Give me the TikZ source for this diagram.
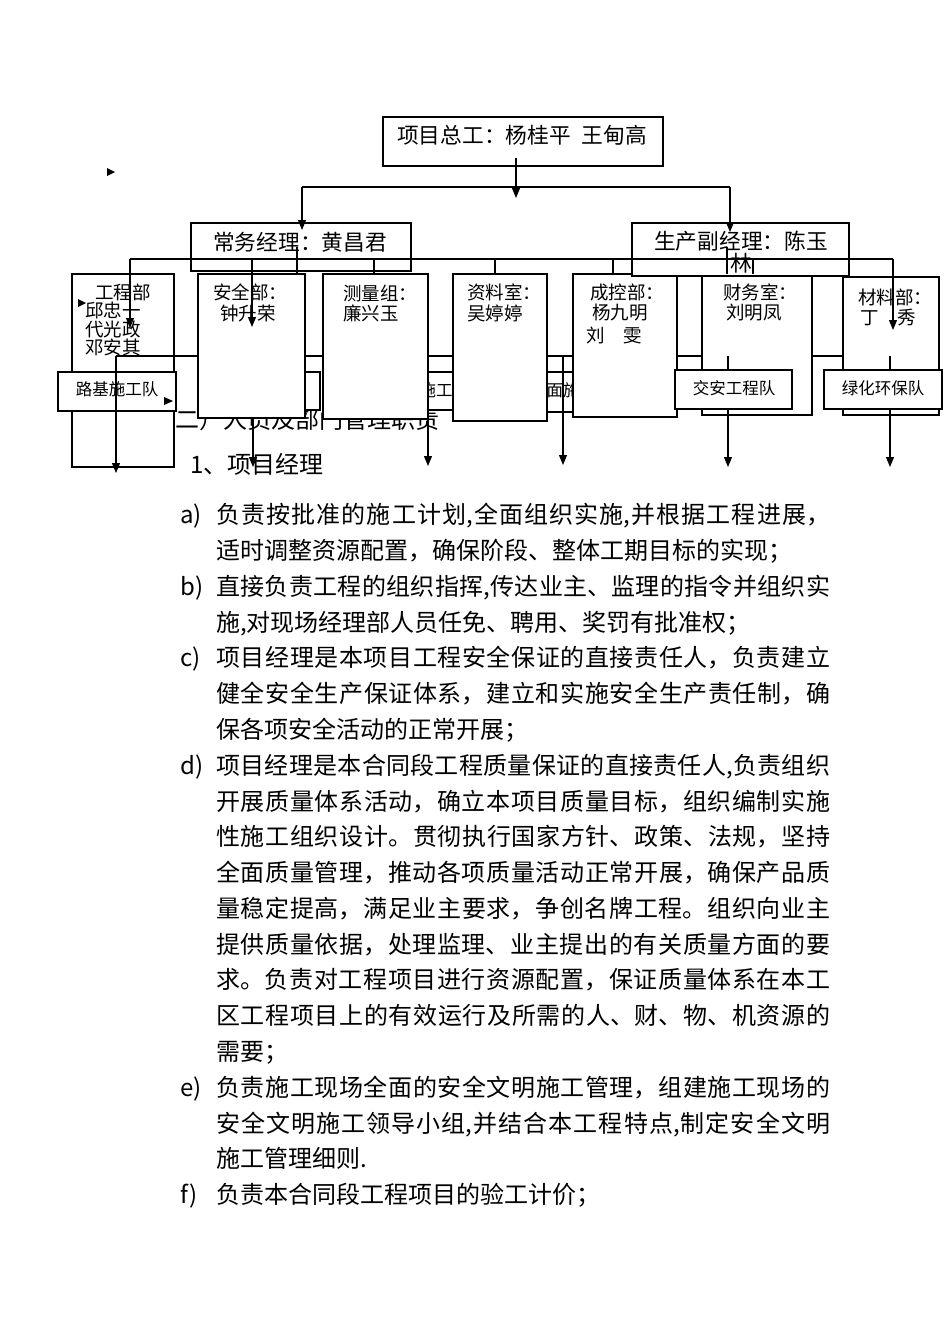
\documentclass[tikz,border=0pt]{standalone}
\usepackage{fontspec}
\setmainfont{Noto Sans CJK SC}
\XeTeXlinebreaklocale "zh"
\XeTeXlinebreakskip=0pt plus 3pt
\usetikzlibrary{arrows.meta}

\begin{document}
\begin{tikzpicture}[x=1pt, y=-1pt,
  >={Triangle[length=10pt,width=8pt]},
  box/.style={rectangle, draw=black, fill=white, line width=1.2pt, inner sep=0pt},
  wire/.style={line width=1.1pt},
  ttl/.style={font=\fontsize{21.7}{22}\selectfont, inner sep=0pt, align=center},
  dept/.style={font=\fontsize{18.5}{20}\selectfont, inner sep=0pt, anchor=west},
  team/.style={font=\fontsize{16.5}{18}\selectfont, inner sep=0pt},
  body/.style={font=\fontsize{24}{36}\selectfont, inner sep=0pt, anchor=base west},
  fullline/.style={body, text width=614pt, align=justify,
    execute at begin node={\parfillskip=0pt\relax}},
]

\fill[white] (0,0) rectangle (950,1344);
\useasboundingbox (0,0) rectangle (950,1344);

% text lying under the chart
\node[body] (sec) at (151,428) {（二）人员及部门管理职责};
\node[body] (sub) at (190,473) {1、项目经理};

% engineering dept and its team
\node[box, minimum width=102pt, minimum height=193pt] (eng) at (123,370.5) {};
\node[dept] (engT) at (95,292) {工程部};
\node[dept] (engA) at (85,310) {邱忠一};
\node[dept] (engB) at (85,329) {代光政};
\node[dept] (engC) at (85,347) {邓安其};

\node[box, minimum width=118pt, minimum height=39pt] (road) at (117,391.5) {};
\node[team] (roadT) at (117,389) {路基施工队};

% teams half hidden behind the depts
\node[box, minimum width=115pt, minimum height=38pt] (teamB) at (262.5,391) {};
\node[box, minimum width=165pt, minimum height=38pt] (teamC) at (417.5,391) {};
\node[team] (teamCT) at (436,390) {施工};
\node[box, minimum width=120pt, minimum height=40pt] (teamD) at (580,392) {};
\node[team] (teamDT) at (563,390) {面施};

% lower bus
\coordinate (loA) at (116,356);
\coordinate (loB) at (253,356);
\coordinate (loC) at (428,356);
\coordinate (loD) at (563,356);
\coordinate (loE) at (728,356);
\coordinate (loF) at (890,356);
\coordinate (outA) at (116,473);
\coordinate (outB) at (253,467);
\coordinate (outC) at (428,466);
\coordinate (outD) at (563,465);
\coordinate (outE) at (728,467);
\coordinate (outF) at (890,467);

\draw[wire] (loA) -- (loF);
\draw[wire,->] (loA) -- (outA);
\draw[wire,->] (loB) -- (outB);
\draw[wire,->] (loC) -- (outC);
\draw[wire,->] (loD) -- (outD);

% departments
\node[box, minimum width=107pt, minimum height=144pt] (saf) at (251.5,346) {};
\node[dept] (safT) at (213,292) {安全部：};
\node[dept] (safA) at (220,313) {钟升荣};

\node[box, minimum width=105pt, minimum height=145pt] (sur) at (375.5,346.5) {};
\node[dept] (surT) at (343,293) {测量组：};
\node[dept] (surA) at (343,313) {廉兴玉};

\node[box, minimum width=94pt, minimum height=147pt] (arc) at (500,347.5) {};
\node[dept] (arcT) at (467,292) {资料室：};
\node[dept] (arcA) at (467,313) {吴婷婷};

\node[box, minimum width=104pt, minimum height=143pt] (cst) at (625,345.5) {};
\node[dept] (cstT) at (590,292) {成控部：};
\node[dept] (cstA) at (592,313) {杨九明};
\node[dept] (cstB) at (586,335) {刘　雯};

\node[box, minimum width=110pt, minimum height=141pt] (fin) at (757,344.5) {};
\node[dept] (finT) at (723,292) {财务室：};
\node[dept] (finA) at (726,313) {刘明凤};

\node[box, minimum width=96pt, minimum height=138pt] (mat) at (891,346) {};
\node[dept] (matT) at (858,297) {材料部：};
\node[dept] (matA) at (860,318) {丁　秀};

\draw[wire,->] (loE) -- (outE);
\draw[wire,->] (loF) -- (outF);

\node[box, minimum width=117pt, minimum height=39pt] (jiao) at (733.5,389.5) {};
\node[team] (jiaoT) at (734,388) {交安工程队};
\node[box, minimum width=118pt, minimum height=39pt] (green) at (883,389.5) {};
\node[team] (greenT) at (883,388) {绿化环保队};

% leaders
\node[box, minimum width=280pt, minimum height=49pt] (chief) at (523,141.5) {};
\node[ttl] (chiefT) at (522,135) {项目总工：杨桂平\hspace{0.5em}王甸高};
\node[box, minimum width=220pt, minimum height=48pt] (gm) at (301,247) {};
\node[ttl] (gmT) at (300,242) {常务经理：黄昌君};
\node[box, minimum width=217pt, minimum height=53pt] (pm) at (740.5,249.5) {};
\node[ttl] (pmT) at (741,252) {生产副经理：陈玉\\林};

% upper connectors
\coordinate (chiefOut) at (516,158);
\coordinate (chiefTip) at (516,198);
\coordinate (hiL) at (302,187);
\coordinate (hiR) at (730,187);
\coordinate (gmIn) at (302,230);
\coordinate (pmIn) at (730,232);
\draw[wire,->] (chiefOut) -- (chiefTip);
\draw[wire] (hiL) -- (hiR);
\draw[wire,->] (hiL) -- (gmIn);
\draw[wire,->] (hiR) -- (pmIn);

% middle bus
\coordinate (midA) at (130,259);
\coordinate (midB) at (252,259);
\coordinate (midC) at (374,259);
\coordinate (midD) at (495,259);
\coordinate (midE) at (613,259);
\coordinate (midF) at (753,259);
\coordinate (midG) at (893,259);
\coordinate (inA) at (130,328);
\coordinate (inB) at (252,327);
\coordinate (inC) at (374,274);
\coordinate (inD) at (495,274);
\coordinate (inE) at (613,274);
\coordinate (inF) at (753,274);
\coordinate (inG) at (893,330);
\coordinate (gmTail) at (297,247);
\coordinate (gmFoot) at (297,274);
\coordinate (pmTail) at (727,247);
\coordinate (pmFoot) at (727,274);

\draw[wire] (midA) -- (midG);
\draw[wire,->] (midA) -- (inA);
\draw[wire,->] (midB) -- (inB);
\draw[wire] (midC) -- (inC);
\draw[wire] (midD) -- (inD);
\draw[wire] (midE) -- (inE);
\draw[wire] (midF) -- (inF);
\draw[wire,->] (midG) -- (inG);
\draw[wire] (gmTail) -- (gmFoot);
\draw[wire] (pmTail) -- (pmFoot);

% stray arrow heads
\fill (107,168) -- (115,172) -- (107,176) -- cycle;
\fill (78,299) -- (86,303) -- (78,307) -- cycle;
\fill (164,397) -- (173,401) -- (164,405) -- cycle;

% duties of the project manager
\node[body] (la) at (180,523) {a)};
\node[fullline] (ta1) at (216,523) {负责按批准的施工计划,全面组织实施,并根据工程进展，};
\node[body] (ta2) at (216,559) {适时调整资源配置，确保阶段、整体工期目标的实现；};

\node[body] (lb) at (180,595) {b)};
\node[fullline] (tb1) at (216,595) {直接负责工程的组织指挥,传达业主、监理的指令并组织实};
\node[body] (tb2) at (216,631) {施,对现场经理部人员任免、聘用、奖罚有批准权；};

\node[body] (lc) at (180,666) {c)};
\node[fullline] (tc1) at (216,666) {项目经理是本项目工程安全保证的直接责任人，负责建立};
\node[fullline] (tc2) at (216,702) {健全安全生产保证体系，建立和实施安全生产责任制，确};
\node[body] (tc3) at (216,738) {保各项安全活动的正常开展；};

\node[body] (ld) at (180,774) {d)};
\node[fullline] (td1) at (216,774) {项目经理是本合同段工程质量保证的直接责任人,负责组织};
\node[fullline] (td2) at (216,810) {开展质量体系活动，确立本项目质量目标，组织编制实施};
\node[fullline] (td3) at (216,845) {性施工组织设计。贯彻执行国家方针、政策、法规，坚持};
\node[fullline] (td4) at (216,881) {全面质量管理，推动各项质量活动正常开展，确保产品质};
\node[fullline] (td5) at (216,917) {量稳定提高，满足业主要求，争创名牌工程。组织向业主};
\node[fullline] (td6) at (216,953) {提供质量依据，处理监理、业主提出的有关质量方面的要};
\node[fullline] (td7) at (216,988) {求。负责对工程项目进行资源配置，保证质量体系在本工};
\node[fullline] (td8) at (216,1024) {区工程项目上的有效运行及所需的人、财、物、机资源的};
\node[body] (td9) at (216,1060) {需要；};

\node[body] (le) at (180,1096) {e)};
\node[fullline] (te1) at (216,1096) {负责施工现场全面的安全文明施工管理，组建施工现场的};
\node[fullline] (te2) at (216,1132) {安全文明施工领导小组,并结合本工程特点,制定安全文明};
\node[body] (te3) at (216,1167) {施工管理细则.};

\node[body] (lf) at (180,1203) {f)};
\node[body] (tf1) at (216,1203) {负责本合同段工程项目的验工计价；};
\end{tikzpicture}
\end{document}
